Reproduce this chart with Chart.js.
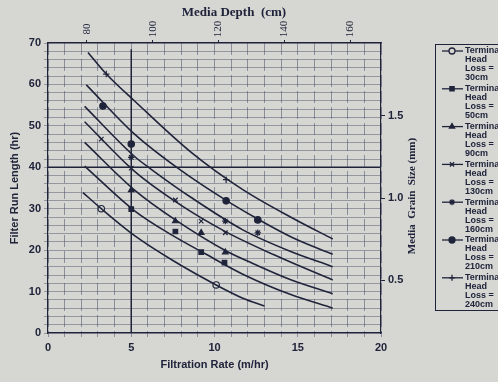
<!DOCTYPE html>
<html lang="en">
<head>
<meta charset="UTF-8">
<title>Filter Run Length vs Filtration Rate</title>
<script src="https://cdn.jsdelivr.net/npm/chart.js"></script>
<style>
  html, body { margin: 0; padding: 0; background: #d6d7d3; }
  canvas { display: block; }
</style>
</head>
<body>
<canvas id="myChart" width="498" height="382"></canvas>
<script>
// terminal head loss of each series, marker used in the legend
const headLoss = ['30cm', '50cm', '90cm', '130cm', '160cm', '210cm', '240cm'];
const markerStyle = ['circle', 'rect', 'triangle', 'crossRot', 'star', 'circle', 'cross'];

// fitted curves (filtration rate m/hr -> run length hr)
const rate30 = [2.1, 3.2, 5.2, 7.5, 10.1, 11.7, 13.0];
const run30 = [33.9, 30.0, 23.5, 17.5, 11.6, 8.4, 6.5];
const rate50 = [2.2, 5.2, 7.5, 9.5, 11.7, 14.5, 17.1];
const run50 = [40.3, 29.5, 23.5, 19.0, 14.2, 9.4, 6.0];
const rate90 = [2.2, 5.2, 7.65, 10.7, 12.3, 14.5, 17.1];
const run90 = [46.0, 34.5, 27.3, 19.8, 16.8, 13.0, 9.5];
const rate130 = [2.2, 5.2, 8.0, 10.6, 13.5, 17.1];
const run130 = [51.0, 39.0, 30.8, 24.6, 19.0, 12.8];
const rate160 = [2.2, 5.2, 6.24, 8.6, 11.7, 14.5, 17.1];
const run160 = [54.7, 42.6, 39.4, 32.7, 24.9, 19.8, 16.0];
const rate210 = [2.3, 5.2, 7.86, 10.7, 12.6, 14.7, 17.1];
const run210 = [59.9, 48.0, 39.6, 32.0, 27.5, 23.0, 19.0];
const rate240 = [2.4, 3.5, 5.2, 8.6, 11.7, 14.7, 17.1];
const run240 = [67.7, 62.5, 56.0, 43.6, 34.6, 27.7, 22.7];

// observed points
const obsRate30 = [3.2, 10.1];
const obsRun30 = [30.0, 11.6];
const obsRate50 = [5.0, 7.65, 9.2, 10.6];
const obsRun50 = [29.9, 24.5, 19.5, 17.0];
const obsRate90 = [5.0, 7.65, 9.2, 10.65];
const obsRun90 = [34.5, 27.0, 24.2, 19.5];
const obsRate130 = [3.2, 5.0, 7.65, 9.2, 10.65];
const obsRun130 = [46.8, 39.8, 32.1, 27.0, 24.2];
const obsRate160 = [5.0, 10.65, 12.6];
const obsRun160 = [42.4, 27.0, 24.2];
const obsRate210 = [3.3, 5.0, 10.7, 12.6];
const obsRun210 = [54.8, 45.6, 31.9, 27.3];
const obsRate240 = [3.5, 10.7];
const obsRun240 = [62.5, 37.0];

// design lines
const designRate = 5;
const designRun = 40;

// secondary axes
const depthTicks = [80, 100, 120, 140, 160];
const grainTicks = [0.5, 1.0, 1.5];

const ink = '#20243a';
const paper = '#d6d7d3';

const curveRates = [rate30, rate50, rate90, rate130, rate160, rate210, rate240];
const curveRuns = [run30, run50, run90, run130, run160, run210, run240];
const obsRates = [obsRate30, obsRate50, obsRate90, obsRate130, obsRate160, obsRate210, obsRate240];
const obsRuns = [obsRun30, obsRun50, obsRun90, obsRun130, obsRun160, obsRun210, obsRun240];

const toPoints = (xs, ys) => xs.map((x, i) => ({ x: x, y: ys[i] }));

const datasets = [];
headLoss.forEach((h, i) => {
    datasets.push({
        label: 'Terminal Head Loss = ' + h,
        data: toPoints(curveRates[i], curveRuns[i]),
        showLine: true,
        borderColor: ink,
        borderWidth: 1.6,
        pointRadius: 0,
        cubicInterpolationMode: 'monotone'
    });
    datasets.push({
        label: h + ' observed',
        data: toPoints(obsRates[i], obsRuns[i]),
        showLine: false,
        pointStyle: markerStyle[i],
        pointRadius: 3.2,
        borderWidth: 1.2,
        borderColor: ink,
        backgroundColor: i === 0 ? paper : ink
    });
});

// vertical and horizontal design lines
datasets.push({
    label: 'design rate',
    data: [{ x: designRate, y: 0 }, { x: designRate, y: 68.5 }],
    showLine: true, borderColor: ink, borderWidth: 1.5, pointRadius: 0
});
datasets.push({
    label: 'design run',
    data: [{ x: 0, y: designRun }, { x: 20, y: designRun }],
    showLine: true, borderColor: ink, borderWidth: 1.5, pointRadius: 0
});

const extras = {
    id: 'extras',
    beforeDraw(chart) {
        const ctx = chart.ctx;
        ctx.save();
        ctx.fillStyle = paper;
        ctx.fillRect(0, 0, chart.width, chart.height);
        ctx.restore();
    },
    afterDraw(chart) {
        const ctx = chart.ctx;
        ctx.save();
        ctx.fillStyle = ink;
        ctx.strokeStyle = ink;

        // top axis title
        ctx.font = 'bold 13px "Liberation Serif"';
        ctx.textAlign = 'center';
        ctx.textBaseline = 'middle';
        ctx.fillText('Media Depth  (cm)', 234, 13);

        // top axis tick labels, rotated
        ctx.font = '11px "Liberation Serif"';
        const top = chart.scales.x2;
        depthTicks.forEach(v => {
            ctx.save();
            ctx.translate(top.getPixelForValue(v), 29);
            ctx.rotate(-Math.PI / 2);
            ctx.fillText(String(v), 0, 0);
            ctx.restore();
        });

        // right axis title
        ctx.save();
        ctx.translate(412, 196);
        ctx.rotate(-Math.PI / 2);
        ctx.font = 'bold 11px "Liberation Serif"';
        ctx.fillText('Media  Grain  Size (mm)', 0, 0);
        ctx.restore();

        // legend box
        ctx.lineWidth = 1;
        ctx.strokeRect(435.5, 44.5, 80, 266);
        ctx.font = 'bold 9px "Liberation Sans"';
        ctx.textAlign = 'left';
        headLoss.forEach((h, i) => {
            const y0 = 51 + i * 37.8;
            ctx.lineWidth = 1.3;
            ctx.beginPath();
            ctx.moveTo(442, y0);
            ctx.lineTo(463, y0);
            ctx.stroke();
            ctx.fillStyle = i === 0 ? paper : ink;
            Chart.helpers.drawPoint(ctx, { pointStyle: markerStyle[i], radius: 3, borderWidth: 1.2 }, 452, y0);
            ctx.fillStyle = ink;
            ['Terminal', 'Head', 'Loss =', h].forEach((t, j) => {
                ctx.fillText(t, 465, y0 + j * 9);
            });
        });
        ctx.restore();
    }
};

const ctx = document.getElementById('myChart').getContext('2d');
const myChart = new Chart(ctx, {
    type: 'scatter',
    data: { datasets: datasets },
    plugins: [extras],
    options: {
        responsive: false,
        animation: false,
        layout: { padding: { left: 0, right: 83, top: 0, bottom: 0 } },
        plugins: {
            legend: { display: false },
            tooltip: { enabled: false }
        },
        scales: {
            x: {
                type: 'linear',
                min: 0,
                max: 20,
                afterFit: s => { s.height = 49; },
                ticks: {
                    stepSize: 1,
                    autoSkip: false,
                    maxRotation: 0,
                    padding: 4,
                    color: ink,
                    font: { family: 'Liberation Sans', size: 11, weight: 'bold' },
                    callback: v => (v % 5 === 0 ? v : '')
                },
                grid: { color: 'rgba(50,56,85,0.45)', lineWidth: 1, tickLength: 4 },
                border: { color: ink, width: 1.2, dash: [12, 4] },
                title: {
                    display: true,
                    text: 'Filtration Rate (m/hr)',
                    color: ink,
                    font: { family: 'Liberation Sans', size: 11, weight: 'bold' },
                    padding: { top: 0, bottom: 10 }
                }
            },
            x2: {
                type: 'linear',
                position: 'top',
                min: 68.15,
                max: 169.4,
                afterFit: s => { s.height = 43; },
                afterBuildTicks: s => { s.ticks = depthTicks.map(v => ({ value: v })); },
                ticks: { display: false },
                grid: { drawOnChartArea: false, tickLength: 3, color: ink },
                border: { color: ink, width: 1.2 }
            },
            y: {
                type: 'linear',
                min: 0,
                max: 70,
                afterFit: s => { s.width = 48; },
                ticks: {
                    stepSize: 2,
                    autoSkip: false,
                    padding: 3,
                    color: ink,
                    font: { family: 'Liberation Sans', size: 11, weight: 'bold' },
                    callback: v => (v % 10 === 0 ? v : '')
                },
                grid: { color: 'rgba(50,56,85,0.4)', lineWidth: 1, tickLength: 4 },
                border: { color: ink, width: 1.2 },
                title: {
                    display: true,
                    text: 'Filter Run Length (hr)',
                    color: ink,
                    font: { family: 'Liberation Sans', size: 11, weight: 'bold' },
                    padding: { top: 8, bottom: 0 }
                }
            },
            y2: {
                type: 'linear',
                position: 'right',
                min: 0.177,
                max: 1.945,
                afterFit: s => { s.width = 34; },
                afterBuildTicks: s => { s.ticks = grainTicks.map(v => ({ value: v })); },
                ticks: {
                    padding: 3,
                    color: ink,
                    font: { family: 'Liberation Sans', size: 11, weight: 'bold' },
                    callback: v => v.toFixed(1)
                },
                grid: { drawOnChartArea: false, tickLength: 4, color: ink },
                border: { color: ink, width: 1.2 }
            }
        }
    }
});
</script>
</body>
</html>
